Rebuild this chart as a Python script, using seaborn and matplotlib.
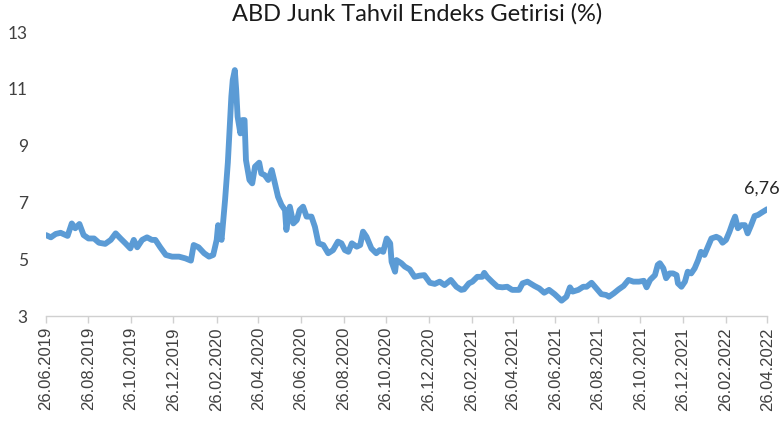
import numpy as np
import pandas as pd
import matplotlib
matplotlib.use('Agg')
import matplotlib.pyplot as plt
import seaborn as sns

# values
dates = [
    '2019-06-26', '2019-07-03', '2019-07-10', '2019-07-17', '2019-07-27', '2019-08-02',
    '2019-08-07', '2019-08-13', '2019-08-19', '2019-08-26', '2019-09-03', '2019-09-10',
    '2019-09-19', '2019-09-27', '2019-10-04', '2019-10-11', '2019-10-18', '2019-10-25',
    '2019-10-30', '2019-11-04', '2019-11-11', '2019-11-18', '2019-11-25', '2019-11-30',
    '2019-12-07', '2019-12-15', '2019-12-24', '2020-01-03', '2020-01-12', '2020-01-20',
    '2020-01-24', '2020-01-31', '2020-02-08', '2020-02-15', '2020-02-21', '2020-02-26',
    '2020-02-28', '2020-03-04', '2020-03-09', '2020-03-13', '2020-03-18', '2020-03-20',
    '2020-03-23', '2020-03-25', '2020-03-27', '2020-03-31', '2020-04-03', '2020-04-06',
    '2020-04-08', '2020-04-13', '2020-04-17', '2020-04-21', '2020-04-27', '2020-04-30',
    '2020-05-05', '2020-05-10', '2020-05-15', '2020-05-19', '2020-05-24', '2020-05-29',
    '2020-06-03', '2020-06-05', '2020-06-10', '2020-06-15', '2020-06-20', '2020-06-24',
    '2020-06-29', '2020-07-04', '2020-07-11', '2020-07-16', '2020-07-21', '2020-07-28',
    '2020-08-04', '2020-08-11', '2020-08-18', '2020-08-23', '2020-08-28', '2020-09-02',
    '2020-09-07', '2020-09-14', '2020-09-19', '2020-09-23', '2020-09-28', '2020-10-05',
    '2020-10-12', '2020-10-17', '2020-10-22', '2020-10-27', '2020-11-01', '2020-11-03',
    '2020-11-08', '2020-11-10', '2020-11-17', '2020-11-22', '2020-11-29', '2020-12-06',
    '2020-12-13', '2020-12-20', '2020-12-28', '2021-01-04', '2021-01-11', '2021-01-18',
    '2021-01-27', '2021-02-04', '2021-02-11', '2021-02-15', '2021-02-22', '2021-02-27',
    '2021-03-06', '2021-03-13', '2021-03-16', '2021-03-20', '2021-03-27', '2021-04-04',
    '2021-04-11', '2021-04-18', '2021-04-25', '2021-05-05', '2021-05-10', '2021-05-17',
    '2021-05-27', '2021-06-03', '2021-06-10', '2021-06-17', '2021-06-25', '2021-07-05',
    '2021-07-12', '2021-07-17', '2021-07-21', '2021-07-29', '2021-08-05', '2021-08-10',
    '2021-08-17', '2021-08-24', '2021-08-31', '2021-09-07', '2021-09-11', '2021-09-18',
    '2021-09-25', '2021-10-02', '2021-10-09', '2021-10-16', '2021-10-24', '2021-10-31',
    '2021-11-04', '2021-11-09', '2021-11-16', '2021-11-20', '2021-11-23', '2021-11-28',
    '2021-12-02', '2021-12-07', '2021-12-12', '2021-12-17', '2021-12-19', '2021-12-24',
    '2021-12-29', '2022-01-02', '2022-01-07', '2022-01-12', '2022-01-17', '2022-01-21',
    '2022-01-26', '2022-01-31', '2022-02-05', '2022-02-12', '2022-02-17', '2022-02-21',
    '2022-02-26', '2022-03-03', '2022-03-08', '2022-03-11', '2022-03-15', '2022-03-20',
    '2022-03-25', '2022-03-29', '2022-04-03', '2022-04-08', '2022-04-13', '2022-04-18',
    '2022-04-26',
]
yields = [
    5.85, 5.77, 5.89, 5.93, 5.82, 6.26,
    6.09, 6.24, 5.85, 5.73, 5.73, 5.58,
    5.54, 5.68, 5.91, 5.73, 5.56, 5.38,
    5.68, 5.42, 5.68, 5.77, 5.68, 5.68,
    5.42, 5.15, 5.09, 5.09, 5.03, 4.95,
    5.50, 5.42, 5.21, 5.09, 5.15, 5.68,
    6.20, 5.68, 7.08, 8.40, 10.72, 11.31,
    11.66, 10.96, 10.02, 9.43, 9.90, 9.90,
    8.49, 7.79, 7.67, 8.26, 8.40, 8.02,
    7.96, 7.79, 8.14, 7.73, 7.20, 6.91,
    6.73, 6.03, 6.85, 6.26, 6.38, 6.73,
    6.85, 6.50, 6.50, 6.14, 5.56, 5.50,
    5.21, 5.32, 5.62, 5.56, 5.32, 5.26,
    5.56, 5.44, 5.50, 5.97, 5.79, 5.38,
    5.21, 5.32, 5.26, 5.73, 5.56, 4.91,
    4.56, 4.97, 4.86, 4.74, 4.64, 4.38,
    4.42, 4.44, 4.17, 4.13, 4.21, 4.09,
    4.27, 4.03, 3.92, 3.94, 4.15, 4.21,
    4.38, 4.38, 4.52, 4.38, 4.21, 4.03,
    4.01, 4.03, 3.92, 3.92, 4.15, 4.21,
    4.06, 3.97, 3.82, 3.92, 3.77, 3.54,
    3.68, 4.01, 3.86, 3.92, 4.03, 4.03,
    4.17, 3.97, 3.77, 3.74, 3.68, 3.80,
    3.94, 4.06, 4.27, 4.21, 4.21, 4.24,
    4.01, 4.27, 4.44, 4.80, 4.86, 4.68,
    4.33, 4.50, 4.50, 4.44, 4.15, 4.03,
    4.21, 4.56, 4.50, 4.68, 4.97, 5.26,
    5.15, 5.44, 5.73, 5.79, 5.73, 5.58,
    5.68, 5.97, 6.32, 6.50, 6.09, 6.20,
    6.20, 5.91, 6.20, 6.52, 6.56, 6.64,
    6.76,
]
y_ticks = [3, 5, 7, 9, 11, 13]
x_start, x_end = '2019-06-26', '2022-04-26'
title = 'ABD Junk Tahvil Endeks Getirisi (%)'
last_label = '6,76'

df = pd.DataFrame({'date': pd.to_datetime(dates), 'value': yields})

sns.set_style('white')
plt.rcParams['font.family'] = ['Lato', 'DejaVu Sans']

fig = plt.figure(figsize=(7.82, 4.24), dpi=100)
ax = fig.add_axes([0.0588, 0.2547, 0.9222, 0.6698])

sns.lineplot(data=df, x='date', y='value', ax=ax, color='#5B9BD5',
             linewidth=4.2, solid_joinstyle='round', solid_capstyle='round')

ax.set_xlim(pd.Timestamp(x_start), pd.Timestamp(x_end))
ax.set_ylim(y_ticks[0], y_ticks[-1])
ax.set_yticks(y_ticks)
ax.set_yticklabels([str(t) for t in y_ticks], fontsize=12.5, color='#404040')
ax.tick_params(axis='y', length=0, pad=13)

xt = pd.date_range(x_start, x_end, freq=pd.DateOffset(months=2))
ax.set_xticks(xt)
ax.set_xticklabels([d.strftime('%d.%m.%Y') for d in xt], rotation=90,
                   family='Liberation Sans', fontsize=12, color='#404040')
ax.tick_params(axis='x', length=5, width=1, color='#D0D0D0', pad=3, bottom=True)

for side in ['top', 'right', 'left']:
    ax.spines[side].set_visible(False)
ax.spines['bottom'].set_color('#D0D0D0')
ax.spines['bottom'].set_linewidth(1)
ax.grid(False)
ax.set_xlabel('')
ax.set_ylabel('')

ax.annotate(last_label, (df['date'].iloc[-1], df['value'].iloc[-1]),
            xytext=(-4, 9), textcoords='offset points', ha='center', va='bottom',
            fontsize=13, color='#262626')

fig.suptitle(title, x=0.533, y=0.992, fontsize=17, color='#1a1a1a', va='top')

plt.savefig('out.png', dpi=100)
